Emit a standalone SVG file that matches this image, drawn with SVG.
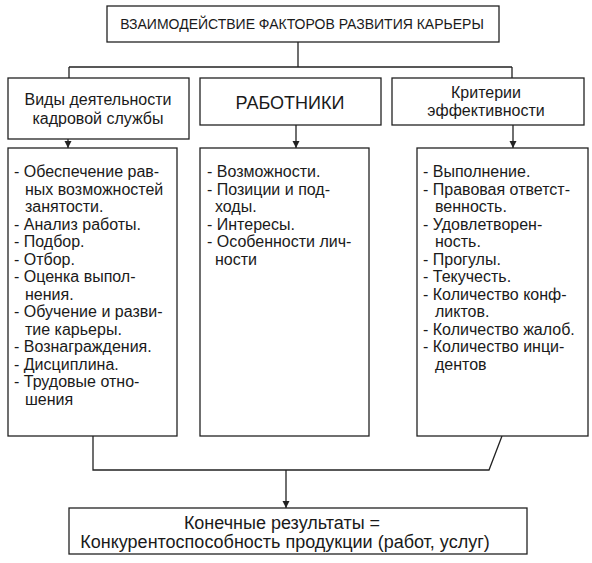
<svg xmlns="http://www.w3.org/2000/svg" width="592" height="563" viewBox="0 0 592 563">
<style>
.box{fill:#fff;stroke:#222;stroke-width:1.3}
.c{fill:none;stroke:#222;stroke-width:1.3}
text{font-family:"Liberation Sans",Arial,sans-serif;fill:#1a1a1a}
.t{font-size:16px}
.m{text-anchor:middle}
</style>
<defs>
<marker id="ah" markerWidth="8" markerHeight="8" refX="7" refY="4" orient="auto" markerUnits="userSpaceOnUse">
<path d="M0,0.5 L7,4 L0,7.5 Z" fill="#222"/>
</marker>
</defs>
<rect width="592" height="563" fill="#fff"/>
<g id="connectors">
<path class="c" d="M298,42 V67 M69,67 H512"/>
<path class="c" d="M69,67 V78 M512,67 V78"/>
<path class="c" d="M68,139 V148" marker-end="url(#ah)"/>
<path class="c" d="M296,125 V148" marker-end="url(#ah)"/>
<path class="c" d="M513,125 V148" marker-end="url(#ah)"/>
<path class="c" d="M93,436 V470 H489 L502,436"/>
<path class="c" d="M286,470 V508" marker-end="url(#ah)"/>
</g>
<g id="top">
<rect class="box" x="107" y="6" width="392" height="36"/>
<text x="302" y="29" class="m" font-size="14">ВЗАИМОДЕЙСТВИЕ ФАКТОРОВ РАЗВИТИЯ КАРЬЕРЫ</text>
</g>
<g id="hr">
<rect class="box" x="8" y="78" width="181" height="61"/>
<text x="98" y="105" class="m" font-size="16">Виды деятельности</text>
<text x="98" y="124" class="m" font-size="16">кадровой службы</text>
</g>
<g id="workers">
<rect class="box" x="200" y="78" width="181" height="47"/>
<text x="290" y="109" class="m" font-size="18">РАБОТНИКИ</text>
</g>
<g id="criteria">
<rect class="box" x="392" y="78" width="192" height="47"/>
<text x="486" y="98" class="m" font-size="16">Критерии</text>
<text x="486" y="116" class="m" font-size="16">эффективности</text>
</g>
<g id="hr-list">
<rect class="box" x="8" y="148" width="169" height="288"/>
<text class="t">
<tspan x="14" y="177">- Обеспечение рав-</tspan>
<tspan x="25" y="194.5">ных возможностей</tspan>
<tspan x="25" y="212">занятости.</tspan>
<tspan x="14" y="229.5">- Анализ работы.</tspan>
<tspan x="14" y="247">- Подбор.</tspan>
<tspan x="14" y="264.5">- Отбор.</tspan>
<tspan x="14" y="282">- Оценка выпол-</tspan>
<tspan x="25" y="299.5">нения.</tspan>
<tspan x="14" y="317">- Обучение и разви-</tspan>
<tspan x="25" y="334.5">тие карьеры.</tspan>
<tspan x="14" y="352">- Вознаграждения.</tspan>
<tspan x="14" y="369.5">- Дисциплина.</tspan>
<tspan x="14" y="387">- Трудовые отно-</tspan>
<tspan x="25" y="404.5">шения</tspan>
</text>
</g>
<g id="workers-list">
<rect class="box" x="200" y="148" width="169" height="288"/>
<text class="t">
<tspan x="207" y="177">- Возможности.</tspan>
<tspan x="207" y="194.5">- Позиции и под-</tspan>
<tspan x="215" y="212">ходы.</tspan>
<tspan x="207" y="229.5">- Интересы.</tspan>
<tspan x="207" y="247">- Особенности лич-</tspan>
<tspan x="215" y="264.5">ности</tspan>
</text>
</g>
<g id="criteria-list">
<rect class="box" x="417" y="148" width="171" height="288"/>
<text class="t">
<tspan x="423" y="177">- Выполнение.</tspan>
<tspan x="423" y="194.5">- Правовая ответст-</tspan>
<tspan x="435" y="212">венность.</tspan>
<tspan x="423" y="229.5">- Удовлетворен-</tspan>
<tspan x="435" y="247">ность.</tspan>
<tspan x="423" y="264.5">- Прогулы.</tspan>
<tspan x="423" y="282">- Текучесть.</tspan>
<tspan x="423" y="299.5">- Количество конф-</tspan>
<tspan x="435" y="317">ликтов.</tspan>
<tspan x="423" y="334.5">- Количество жалоб.</tspan>
<tspan x="423" y="352">- Количество инци-</tspan>
<tspan x="435" y="369.5">дентов</tspan>
</text>
</g>
<g id="result">
<rect class="box" x="69" y="508" width="458" height="46"/>
<text x="282" y="529" class="m" font-size="18">Конечные результаты =</text>
<text x="285" y="548" class="m" font-size="18">Конкурентоспособность продукции (работ, услуг)</text>
</g>
</svg>
